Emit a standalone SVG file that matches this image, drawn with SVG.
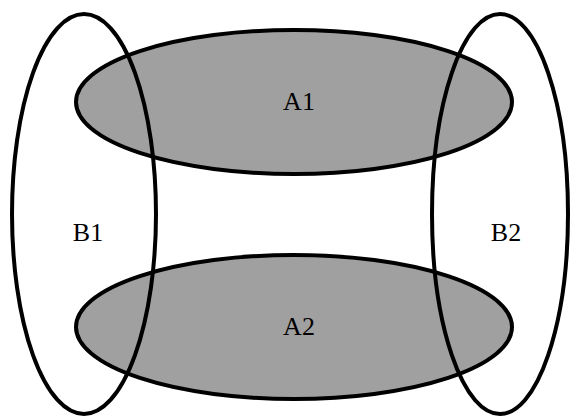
<svg xmlns="http://www.w3.org/2000/svg" width="570" height="417" viewBox="0 0 570 417">
<style>
.a{fill:#a0a0a0;stroke:#000;stroke-width:4}
.b{fill:none;stroke:#000;stroke-width:4}
text{font-family:"Liberation Serif","Times New Roman",serif;font-size:26px;fill:#000;text-anchor:middle}
</style>
<rect width="570" height="417" fill="#fff"/>
<g id="A1"><ellipse class="a" cx="294" cy="102" rx="218" ry="72"/><text x="299" y="110">A1</text></g>
<g id="A2"><ellipse class="a" cx="294" cy="327" rx="218" ry="72"/><text x="299" y="335">A2</text></g>
<g id="B1"><ellipse class="b" cx="84" cy="214" rx="72" ry="200"/><text x="88" y="241">B1</text></g>
<g id="B2"><ellipse class="b" cx="500" cy="214" rx="68" ry="200"/><text x="506" y="241">B2</text></g>
<g id="connectors"/>
</svg>
